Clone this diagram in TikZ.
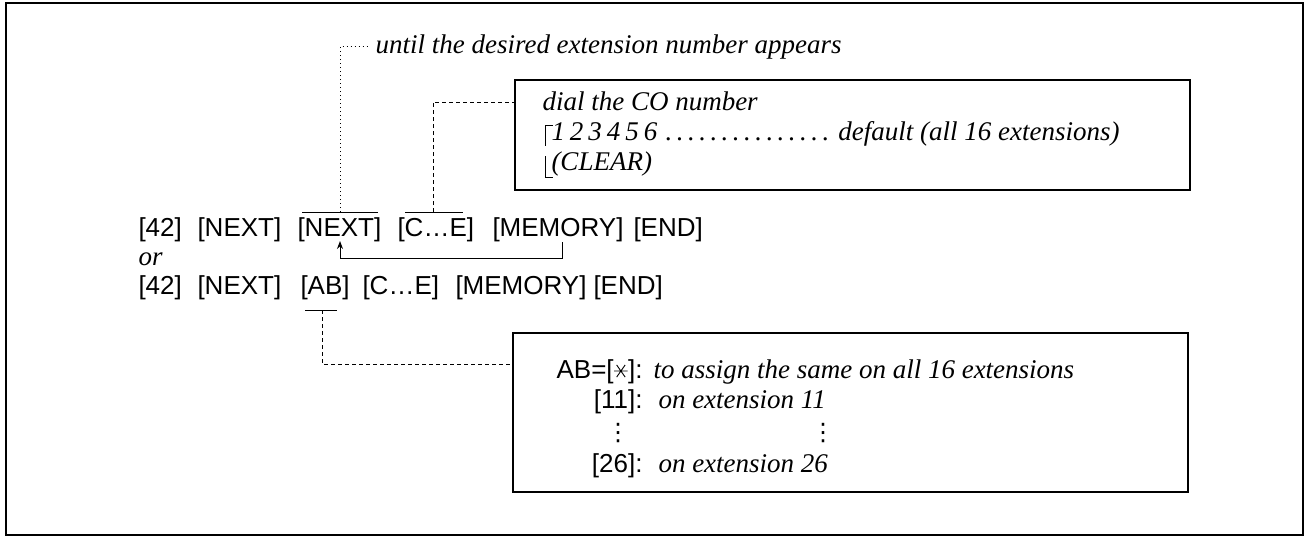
\documentclass[tikz,border=0pt]{standalone}
\usepackage{fontspec}
\setmainfont{Liberation Serif}
\newfontfamily\keyfont{Liberation Sans}
\newfontfamily\dotsfont{DejaVu Sans}
\usetikzlibrary{arrows.meta}

\newcommand{\starkey}{\tikz[baseline={(0,-3.5pt)},line width=0.45pt]{\draw (180:3.4pt) -- (0:3.4pt) (55:3.7pt) -- (235:3.7pt) (125:3.7pt) -- (305:3.7pt);}}

\begin{document}
\begin{tikzpicture}[
  x=0.5pt,
  y=-0.5pt,
  line width=0.5pt,
  key/.style={font=\keyfont\fontsize{13}{15}\selectfont, inner sep=0pt, anchor=base west},
  note/.style={font=\itshape\fontsize{13.5}{16}\selectfont, inner sep=0pt, anchor=base west},
  vdotnote/.style={font=\dotsfont\fontsize{12}{14}\selectfont, inner sep=0pt},
  infobox/.style={draw, line width=0.6pt, inner sep=0pt},
  dashlink/.style={dash pattern=on 2pt off 1.5pt},
  dotlink/.style={dash pattern=on 0.6pt off 1.4pt},
]

  \useasboundingbox (0,0) rectangle (1308,538);
  \draw[line width=0.8pt] (6,3) rectangle (1303,535);

  % first sequence
  \node[key] (k42a) at (138,236) {[42]};
  \node[key] (nexta) at (197,236) {[NEXT]};
  \node[key] (nextb) at (297,236) {[NEXT]};
  \node[key] (cea) at (397,236) {[C…E]};
  \node[key] (memorya) at (492,236) {[MEMORY]};
  \node[key] (enda) at (633,236) {[END]};

  \node[note] (ortxt) at (138,265) {or};

  % second sequence
  \node[key] (k42b) at (138,294) {[42]};
  \node[key] (nextc) at (197,294) {[NEXT]};
  \node[key] (ab) at (300,294) {[AB]};
  \node[key] (ceb) at (362,294) {[C…E]};
  \node[key] (memoryb) at (455,294) {[MEMORY]};
  \node[key] (endb) at (593,294) {[END]};

  % notes
  \node[note] (untiltxt) at (375,53) {until the desired extension number appears};

  \node[infobox, minimum width=337.5pt, minimum height=55pt] (cobox) at (852.5,135) {};
  \node[note] (dialtxt) at (542,110) {dial the CO number};
  \node[note] (deftxt) at (551,140) {\hbox to 284pt{1\kern2.5pt 2\kern2.5pt 3\kern2.5pt 4\kern2.5pt 5\kern2.5pt 6\leaders\hbox to 5.6pt{\hss.\hss}\hfill\kern3pt default (all 16 extensions)}};
  \node[note] (cleartxt) at (551,170) {(CLEAR)};
  \draw (553,125) -- (545,125) -- (545,146);
  \draw (545,156) -- (545,177) -- (553,177);

  \node[infobox, minimum width=337.5pt, minimum height=79.5pt] (abbox) at (850.5,412.5) {};
  \node[key, anchor=base east] (abeq) at (643,378) {AB=[\starkey]:};
  \node[note] (alltxt) at (653,378) {to assign the same on all 16 extensions};
  \node[key, anchor=base east] (k11) at (643,408) {[11]:};
  \node[note] (ext11) at (658,408) {on extension 11};
  \node[vdotnote] (vdotl) at (618,433) {⋮};
  \node[vdotnote] (vdotr) at (823,433) {⋮};
  \node[key, anchor=base east] (k26) at (643,472) {[26]:};
  \node[note] (ext26) at (658,472) {on extension 26};

  % bars and links
  \coordinate (nbarl) at (302,212);
  \coordinate (nbarr) at (378,212);
  \coordinate (nexttap) at (340,212);
  \coordinate (cbarl) at (405,212);
  \coordinate (cbarr) at (463,212);
  \coordinate (cetap) at (433,212);
  \coordinate (abbarl) at (305,310);
  \coordinate (abbarr) at (337,310);
  \coordinate (abtap) at (322,310);
  \coordinate (cojoin) at (515,102);
  \coordinate (abjoin) at (513,364);
  \coordinate (retfrom) at (562,242);
  \coordinate (retto) at (340,241);

  \draw (nbarl) -- (nbarr);
  \draw (cbarl) -- (cbarr);
  \draw (abbarl) -- (abbarr);
  \draw[dotlink] (nexttap) |- ([xshift=-3pt]untiltxt.west);
  \draw[dashlink] (cetap) |- (cojoin);
  \draw[dashlink] (abtap) |- (abjoin);
  \draw[-{Stealth[length=4pt,width=3pt]}] (retfrom) -- ++(0,16) -| (retto);

\end{tikzpicture}
\end{document}
